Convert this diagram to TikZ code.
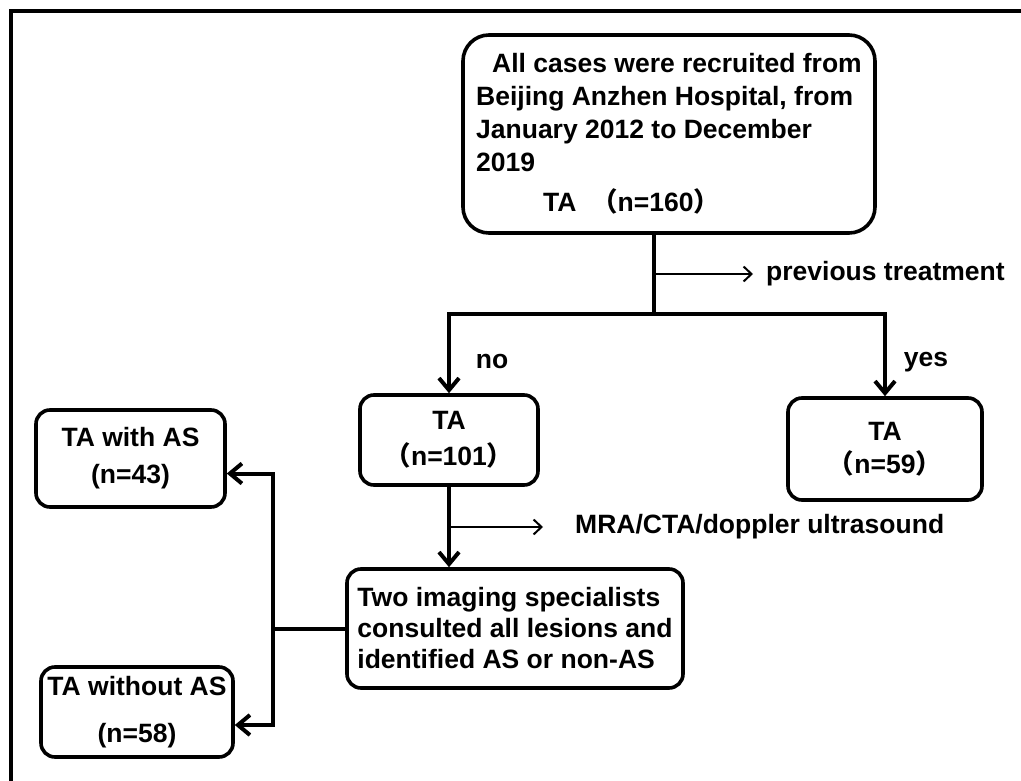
\documentclass[tikz,border=0pt]{standalone}
\usepackage{fontspec}
\setmainfont{Liberation Sans}
\newfontfamily\cjk{Noto Sans CJK SC}
\usetikzlibrary{positioning,arrows.meta}
% 全角括号
\newcommand{\fwlp}{{\cjk （}}
\newcommand{\fwrp}{{\cjk ）}}

\begin{document}
\begin{tikzpicture}[x=1pt,y=-1pt,
	box/.style={draw, line width=3.6pt, rounded corners=14pt, inner sep=0pt,
		align=center, font=\fontsize{26.5}{36}\selectfont\bfseries},
	lbl/.style={inner sep=0pt, font=\fontsize{26.5}{32}\selectfont\bfseries},
	trunk/.style={line width=4pt},
	arr/.style={line width=4pt, -{Straight Barb[length=12pt,width=20pt]}},
	thinarr/.style={line width=2pt, -{Straight Barb[length=8pt,width=15pt]}}
]
	\useasboundingbox (0,0) rectangle (1021,781);
	%% 外框
	\draw[line width=3.2pt] (11,781) -- (11,11) -- (1021,11);
	%% 各个方框
	\node[box, rounded corners=26pt, minimum width=412pt, minimum height=198pt,
		align=left, font=\fontsize{26.5}{33}\selectfont\bfseries] (all) at (669,134)
		{\hspace*{16pt}All cases were recruited from\\Beijing Anzhen Hospital, from\\
		January 2012 to December\\2019\\[7pt]\hspace*{67pt}TA\ \ \fwlp n=160\fwrp};
	\node[box, minimum width=178pt, minimum height=90pt] (nobox) at (449,440)
		{TA\\\fwlp n=101\fwrp};
	\node[box, minimum width=194pt, minimum height=102pt,
		font=\fontsize{26.5}{33}\selectfont\bfseries] (yesbox) at (885,449)
		{TA\\\fwlp n=59\fwrp};
	\node[box, minimum width=336pt, minimum height=119pt, align=left,
		font=\fontsize{26.5}{31}\selectfont\bfseries] (img) at (515,628.5)
		{Two imaging specialists\\consulted all lesions and\\identified AS or non-AS};
	\node[box, minimum width=189pt, minimum height=97pt,
		font=\fontsize{26.5}{37}\selectfont\bfseries] (withas) at (130.5,458.5)
		{TA with AS\\(n=43)};
	\node[box, minimum width=192pt, minimum height=90pt,
		font=\fontsize{26.5}{47}\selectfont\bfseries] (withoutas) at (137,712)
		{TA without AS\\(n=58)};
	%% 文字标注
	\node[lbl] (no) at (492,361) {no};
	\node[lbl] (yes) at (926,362) {yes};
	\node[lbl, anchor=west] (prev) at (766,274) {previous treatment};
	\node[lbl, anchor=west] (mra) at (575,527) {MRA/CTA/doppler ultrasound};
	% 分叉点
	\coordinate (split) at (654,314);
	\coordinate (prevfork) at (654,274);
	\coordinate (mrafork) at (nobox.south |- mra.west);
	\coordinate (asfork) at ([xshift=-72pt]img.west);
	%% 连线
	\draw[trunk] (split |- all.south) -- (split);
	\draw[arr] (split) -| (nobox.north);
	\draw[arr] (split) -| (yesbox.north);
	\draw[thinarr, shorten >=13pt] (prevfork) -- (prev.west);
	\draw[arr] (nobox.south) -- (nobox.south |- img.north);
	\draw[thinarr, shorten >=32pt] (mrafork) -- (mra.west);
	\draw[trunk] (img.west) -- (asfork);
	\draw[arr] (asfork) |- ([yshift=-15pt]withas.east);
	\draw[arr] (asfork) |- ([yshift=-13pt]withoutas.east);
\end{tikzpicture}
\end{document}
